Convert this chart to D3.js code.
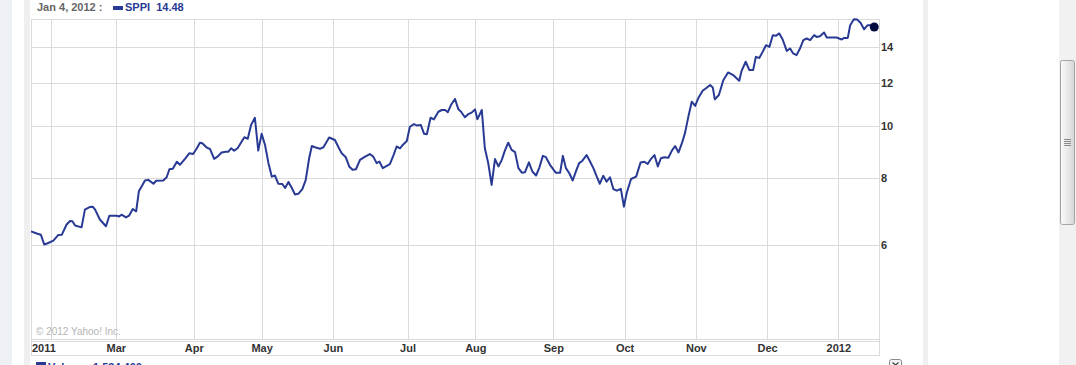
<!DOCTYPE html>
<html>
<head>
<meta charset="utf-8">
<script src="https://d3js.org/d3.v7.min.js"></script>
<style>
  body { margin: 0; background: #fff; }
  svg { display: block; font-family: "Liberation Sans", Arial, sans-serif; }
</style>
</head>
<body>
<div id="chart"></div>
<script>
// SPPI daily close, trading-day index counted from Jan 24, 2011
var days = [0, 1.7, 2.9, 3.9, 5.1, 6.6, 8.0, 9.1, 10.5, 11.5, 12.2, 13.0, 14.9, 15.9, 17.4, 18.2, 18.9, 20.3, 22.1, 23.1,
  25.3, 26.0, 26.7, 28.0, 28.9, 30.0, 31.0, 31.8, 33.6, 34.6, 36.1, 36.9, 39.0, 40.0, 40.8, 41.8, 43.0, 43.9, 45.4, 46.7,
  47.8, 48.9, 49.8, 50.5, 51.8, 52.8, 54.0, 55.0, 56.2, 57.4, 58.2, 59.0, 59.9, 60.9, 61.9, 62.9, 63.9, 64.9, 66.0, 67.0,
  68.0, 69.0, 70.0, 71.0, 71.9, 72.9, 74.1, 74.9, 75.9, 76.9, 77.8, 78.8, 80.0, 81.0, 82.0, 82.8, 83.7, 85.2, 86.2, 87.0,
  87.9, 89.6, 90.8, 91.6, 92.8, 93.8, 94.8, 95.8, 97.0, 98.5, 99.9, 100.9, 101.9, 102.7, 103.7, 104.9, 105.8, 106.8, 107.8, 108.8,
  109.6, 110.8, 111.7, 112.9, 113.9, 114.9, 115.9, 116.7, 117.8, 118.8, 120.1, 121.1, 122.1, 122.9, 123.8, 125.0, 126.0, 126.8, 127.9, 128.9,
  129.9, 130.9, 131.6, 132.9, 133.8, 134.8, 135.8, 136.8, 137.8, 138.8, 139.7, 140.7, 141.7, 142.7, 143.7, 144.7, 145.6, 146.8, 147.8, 148.9,
  149.9, 150.9, 151.8, 153.0, 154.7, 156.0, 156.8, 157.7, 158.7, 159.7, 160.7, 161.6, 162.5, 163.8, 164.8, 165.8, 166.8, 167.7, 168.7, 169.7,
  170.7, 171.7, 172.7, 173.9, 174.8, 175.6, 176.9, 178.4, 179.7, 180.8, 181.8, 182.8, 183.8, 184.8, 185.7, 186.7, 187.9, 188.9, 189.9, 190.9,
  191.9, 192.8, 193.8, 194.8, 195.8, 196.7, 198.0, 199.2, 200.2, 201.0, 201.6, 202.8, 204.1, 205.5, 207.0, 208.8, 209.5, 210.7, 211.8, 212.9,
  213.7, 214.7, 215.7, 216.7, 217.7, 218.7, 219.6, 220.6, 221.6, 222.8, 223.8, 224.7, 225.7, 226.7, 227.7, 228.7, 229.7, 230.9, 231.6, 232.6,
  233.8, 234.6, 236.1, 237.5, 239.0, 239.7, 240.8, 241.5, 242.6, 243.6, 244.6, 245.6, 246.6, 247.6, 248.6]

var prices = [6.35, 6.29, 6.26, 6.00, 6.04, 6.10, 6.25, 6.26, 6.54, 6.64, 6.63, 6.51, 6.46, 6.97, 7.05, 7.06, 6.97, 6.68, 6.49, 6.79,
  6.79, 6.77, 6.82, 6.74, 6.79, 6.99, 6.92, 7.54, 7.90, 7.92, 7.79, 7.89, 7.90, 8.01, 8.29, 8.31, 8.56, 8.45, 8.67, 8.88,
  8.85, 9.07, 9.29, 9.27, 9.10, 9.04, 8.67, 8.75, 8.91, 8.94, 8.94, 9.07, 8.98, 9.07, 9.29, 9.51, 9.45, 10.03, 10.34, 8.98,
  9.65, 9.20, 8.51, 8.03, 8.07, 7.79, 7.78, 7.65, 7.85, 7.65, 7.44, 7.46, 7.61, 7.92, 8.69, 9.16, 9.11, 9.05, 9.11, 9.29,
  9.50, 9.40, 9.07, 8.88, 8.73, 8.39, 8.27, 8.29, 8.63, 8.75, 8.85, 8.75, 8.51, 8.57, 8.33, 8.41, 8.47, 8.78, 9.14, 9.07,
  9.20, 9.36, 9.95, 10.06, 10.00, 10.03, 9.65, 9.63, 10.34, 10.27, 10.61, 10.69, 10.69, 10.59, 10.92, 11.21, 10.72, 10.61, 10.36, 10.50,
  10.57, 10.72, 10.27, 10.69, 9.07, 8.51, 7.75, 8.66, 8.39, 8.63, 8.98, 9.29, 9.01, 8.92, 8.33, 8.17, 8.18, 8.54, 8.21, 8.07,
  8.36, 8.78, 8.73, 8.45, 8.17, 8.17, 8.78, 8.33, 8.15, 7.90, 8.23, 8.51, 8.59, 8.81, 8.57, 8.33, 8.03, 7.79, 8.06, 7.86,
  8.01, 7.61, 7.56, 7.62, 7.06, 7.48, 7.95, 8.03, 8.53, 8.56, 8.48, 8.67, 8.81, 8.39, 8.69, 8.73, 8.71, 8.97, 9.16, 8.91,
  9.27, 9.68, 10.39, 11.08, 10.88, 11.24, 11.61, 11.76, 11.90, 11.78, 11.19, 11.40, 12.15, 12.56, 12.42, 12.12, 12.65, 13.15, 12.69, 12.69,
  13.43, 13.37, 13.72, 14.12, 14.02, 14.74, 14.70, 14.85, 14.47, 13.78, 13.92, 13.63, 13.53, 13.92, 14.43, 14.53, 14.43, 14.74, 14.63, 14.67,
  14.91, 14.59, 14.59, 14.59, 14.47, 14.57, 14.57, 15.38, 15.78, 15.76, 15.53, 15.12, 15.38, 15.38, 15.27]

// first trading day of each month (same index)
var monthDays = [6, 25, 48, 68, 89, 111, 131, 154, 175, 196, 217, 238]
var monthLabels = ["", "Mar", "Apr", "May", "Jun", "Jul", "Aug", "Sep", "Oct", "Nov", "Dec", "2012"]
var startLabel = "2011"
var priceTicks = [6, 8, 10, 12, 14]

var W = 1076, H = 365
var plot = {left: 31, right: 879, top: 19, bottom: 339}
var lineColor = "#283a94"
var gridColor = "#dadada"

var svg = d3.select("#chart").append("svg")
    .attr("width", W)
    .attr("height", H)

// page background strips
svg.append("rect").attr("x", 0).attr("y", 0).attr("width", W).attr("height", H).attr("fill", "#fff")
svg.append("rect").attr("x", 0).attr("y", 0).attr("width", 12).attr("height", H).attr("fill", "#edf1f5")
svg.append("rect").attr("x", 24).attr("y", 0).attr("width", 6).attr("height", H).attr("fill", "#efefef")
svg.append("rect").attr("x", 923).attr("y", 0).attr("width", 5).attr("height", H).attr("fill", "#efefef")

var x = d3.scaleLinear()
    .domain([0, 249])
    .range([plot.left, 875.6])

var y = d3.scaleLog()
    .domain([4, 15.8])
    .range([plot.bottom, plot.top])

// horizontal grid
svg.append("g").selectAll("line")
    .data(priceTicks)
    .enter().append("line")
    .attr("x1", plot.left).attr("x2", plot.right)
    .attr("y1", function(d) { return Math.round(y(d)) + 0.5 })
    .attr("y2", function(d) { return Math.round(y(d)) + 0.5 })
    .attr("stroke", gridColor)

// vertical grid
svg.append("g").selectAll("line")
    .data(monthDays)
    .enter().append("line")
    .attr("x1", function(d) { return Math.round(x(d)) + 0.5 })
    .attr("x2", function(d) { return Math.round(x(d)) + 0.5 })
    .attr("y1", plot.top).attr("y2", plot.bottom)
    .attr("stroke", gridColor)

// frame + axis band
var frame = svg.append("g").attr("stroke", gridColor).attr("fill", "none")
frame.append("line").attr("x1", plot.left).attr("x2", plot.right).attr("y1", plot.top + 0.5).attr("y2", plot.top + 0.5)
frame.append("line").attr("x1", plot.left).attr("x2", plot.right).attr("y1", plot.bottom + 0.5).attr("y2", plot.bottom + 0.5)
frame.append("line").attr("x1", plot.left).attr("x2", plot.right).attr("y1", plot.bottom + 2.5).attr("y2", plot.bottom + 2.5)
frame.append("line").attr("x1", plot.left).attr("x2", plot.right).attr("y1", 355.5).attr("y2", 355.5)
frame.append("line").attr("x1", plot.left + 0.5).attr("x2", plot.left + 0.5).attr("y1", plot.top).attr("y2", 356)
frame.append("line").attr("x1", plot.right + 0.5).attr("x2", plot.right + 0.5).attr("y1", plot.top).attr("y2", 356)

// copyright
svg.append("text")
    .attr("x", 36).attr("y", 335)
    .attr("font-size", "10px")
    .attr("fill", "#b4b4b4")
    .text("\u00a9 2012 Yahoo! Inc.")

// x axis labels
var xAxis = d3.axisBottom(x)
    .tickValues(monthDays)
    .tickFormat(function(d, i) { return monthLabels[i] })
    .tickSize(0)
    .tickPadding(3)

var gx = svg.append("g")
    .attr("transform", "translate(0," + (plot.bottom + 2) + ")")
    .call(xAxis)
gx.select(".domain").remove()
gx.selectAll("text")
    .attr("font-family", "Liberation Sans, Arial, sans-serif")
    .attr("font-size", "11px")
    .attr("font-weight", "bold")
    .attr("fill", "#333")

svg.append("text")
    .attr("x", 32).attr("y", plot.bottom + 2 + 3)
    .attr("dy", "0.71em")
    .attr("font-size", "11px")
    .attr("font-weight", "bold")
    .attr("fill", "#333")
    .text(startLabel)

// y axis labels on the right
var yAxis = d3.axisRight(y)
    .tickValues(priceTicks)
    .tickFormat(d3.format("d"))
    .tickSize(0)
    .tickPadding(2)

var gy = svg.append("g")
    .attr("transform", "translate(" + plot.right + ",0)")
    .call(yAxis)
gy.select(".domain").remove()
gy.selectAll("text")
    .attr("font-family", "Liberation Sans, Arial, sans-serif")
    .attr("font-size", "11px")
    .attr("font-weight", "bold")
    .attr("fill", "#333")

// price line
var points = days.map(function(d, i) { return [d, prices[i]] })

var line = d3.line()
    .x(function(d) { return x(d[0]) })
    .y(function(d) { return y(d[1]) })

svg.append("path")
    .datum(points)
    .attr("d", line)
    .attr("fill", "none")
    .attr("stroke", lineColor)
    .attr("stroke-width", 2)
    .attr("stroke-linejoin", "round")

var last = points[points.length - 1]
svg.append("circle")
    .attr("cx", x(last[0]))
    .attr("cy", y(last[1]))
    .attr("r", 4.5)
    .attr("fill", "#000a3c")

// legend on top
var legend = svg.append("g").attr("font-size", "11px").attr("font-weight", "bold")
legend.append("text").attr("x", 37).attr("y", 11).attr("fill", "#666").text("Jan 4, 2012 :")
legend.append("rect").attr("x", 113).attr("y", 6).attr("width", 10).attr("height", 4).attr("fill", lineColor)
legend.append("text").attr("x", 125).attr("y", 11).attr("fill", lineColor)
    .style("white-space", "pre").text("SPPI  14.48")

// volume legend (cut by the window, as in the original page)
var vol = svg.append("g").attr("font-size", "11px").attr("font-weight", "bold")
vol.append("rect").attr("x", 36).attr("y", 362).attr("width", 10).attr("height", 4).attr("fill", lineColor)
vol.append("text").attr("x", 48).attr("y", 371).attr("fill", lineColor)
    .style("white-space", "pre").text("Volume  1,534,400")

// small toggle button
svg.append("rect")
    .attr("x", 889.5).attr("y", 359.5).attr("width", 12).attr("height", 11).attr("rx", 2)
    .attr("fill", "#f4f4f4").attr("stroke", "#8a8a8a")
svg.append("path")
    .attr("d", "M892.5,362.5 L895.5,365 L898.5,362.5")
    .attr("fill", "none").attr("stroke", "#444").attr("stroke-width", 1.2)

// browser scrollbar
var grad = svg.append("defs").append("linearGradient").attr("id", "thumb")
grad.append("stop").attr("offset", "0%").attr("stop-color", "#fbfbfb")
grad.append("stop").attr("offset", "100%").attr("stop-color", "#d6d6d6")
svg.append("rect").attr("x", 1059).attr("y", 0).attr("width", 17).attr("height", H).attr("fill", "#f1f1f1")
svg.append("rect")
    .attr("x", 1060.5).attr("y", 60.5).attr("width", 14).attr("height", 164).attr("rx", 2)
    .attr("fill", "url(#thumb)").attr("stroke", "#a3a3a3")
svg.append("g").attr("stroke", "#8c8c8c").selectAll("line")
    .data([139.5, 141.5, 143.5, 145.5])
    .enter().append("line")
    .attr("x1", 1064).attr("x2", 1071)
    .attr("y1", function(d) { return d }).attr("y2", function(d) { return d })
</script>
</body>
</html>
